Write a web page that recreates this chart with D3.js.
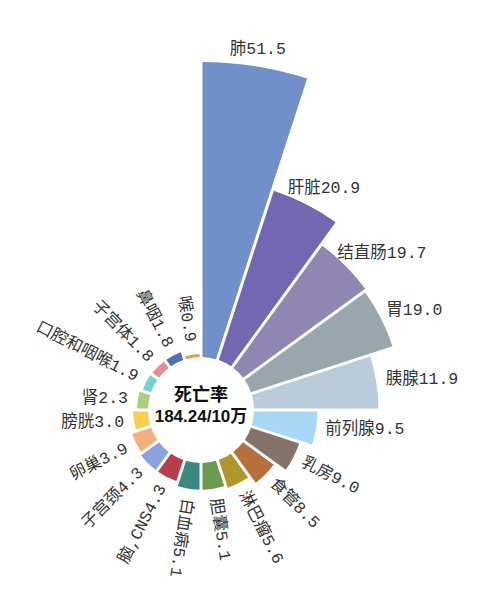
<!DOCTYPE html>
<html>
<head>
<meta charset="utf-8">
<script src="https://cdn.jsdelivr.net/npm/d3@7"></script>
<style>
  body { margin: 0; background: #fff; }
  svg { display: block; }
</style>
</head>
<body>
<svg id="chart" width="504" height="610"></svg>
<script>
// cancer types, clockwise from 12 o'clock
var categories = ['肺', '肝脏', '结直肠', '胃', '胰腺', '前列腺', '乳房', '食管', '淋巴瘤', '胆囊',
    '白血病', '脑,CNS', '子宫颈', '卵巢', '膀胱', '肾', '口腔和咽喉', '子宫体', '鼻咽', '喉'];

// death rate per 100,000
var rates = [51.5, 20.9, 19.7, 19.0, 11.9, 9.5, 9.0, 8.5, 5.6, 5.1,
    5.1, 4.3, 4.3, 3.9, 3.0, 2.3, 1.9, 1.8, 1.8, 0.9];

var centerTitle = '死亡率';
var centerValue = '184.24/10万';

var palette = ['#7190c9', '#7467b1', '#8f87b2', '#98a7ae', '#b8cbda', '#a6d8f4', '#85736b', '#b7703c',
    '#ae962c', '#6b9a4f', '#3b8a80', '#b53e4d', '#8ba3dd', '#f3b07c', '#f7d053', '#a6d27d',
    '#70d6d2', '#e68c94', '#5270b2', '#dca050'];

var svg = d3.select('#chart');
var cx = 201, cy = 410;
var innerR = 53;

var g = svg.append('g').attr('transform', 'translate(' + cx + ',' + cy + ')');

// radius scale (the picture is not strictly proportional, so use a few stops)
var rScale = d3.scaleLinear()
    .domain([0, 5.5, 8.5, 12, 20, 21, 51.5])
    .range([51, 82, 91, 180, 205, 234, 348]);

var angle = d3.scaleBand()
    .domain(categories)
    .range([0, 2 * Math.PI]);

// constant white gap between the bars
var arc = d3.arc()
    .innerRadius(innerR)
    .outerRadius(function(d, i) { return rScale(rates[i]); })
    .startAngle(function(d) { return angle(d); })
    .endAngle(function(d) { return angle(d) + angle.bandwidth(); })
    .padAngle(0.03)
    .padRadius(100);

g.selectAll('path.bar')
    .data(categories)
    .enter()
    .append('path')
    .attr('class', 'bar')
    .attr('d', function(d, i) { return arc(d, i); })
    .attr('fill', function(d, i) { return palette[i]; });

// labels
var fmt = d3.format('.1f');
var labels = g.selectAll('text.lbl')
    .data(categories)
    .enter()
    .append('text')
    .attr('class', 'lbl')
    .attr('font-family', '"Liberation Mono", "Noto Sans CJK SC", sans-serif')
    .attr('font-size', 16.5)
    .attr('fill', '#333')
    .attr('dominant-baseline', 'central')
    .text(function(d, i) { return d + fmt(rates[i]); });

labels.each(function(d, i) {
    var t = d3.select(this);
    var a = angle(d) + angle.bandwidth() / 2;
    var deg = a * 180 / Math.PI;
    var gap = i === categories.length - 1 ? 13 : 10;
    var r = rScale(rates[i]) + gap;
    var px = Math.sin(a) * r, py = -Math.cos(a) * r;
    var w = this.getComputedTextLength();

    if (deg < 100) {
        // upper right: horizontal text
        t.attr('text-anchor', 'start')
            .attr('x', px - w / 2 * (1 - Math.sin(a)) * 1.15)
            .attr('y', py - 7 * Math.max(0, Math.cos(a)));
    } else if (deg < 200) {
        // lower right: reads outward
        t.attr('text-anchor', 'start')
            .attr('transform', 'translate(' + px + ',' + py + ') rotate(' + (deg - 90) + ')');
    } else {
        // left half: reads toward the centre
        var rot = deg - 270;
        if (Math.abs(rot) < 10) rot = 0;
        t.attr('text-anchor', 'end')
            .attr('transform', 'translate(' + px + ',' + py + ') rotate(' + rot + ')');
    }
});

// center text
g.append('text')
    .attr('x', 0)
    .attr('y', -15)
    .attr('text-anchor', 'middle')
    .attr('dominant-baseline', 'central')
    .attr('font-family', '"Liberation Sans", "Noto Sans CJK SC", sans-serif')
    .attr('font-weight', 'bold')
    .attr('font-size', 18)
    .attr('fill', '#111')
    .text(centerTitle);

g.append('text')
    .attr('x', 0)
    .attr('y', 6)
    .attr('text-anchor', 'middle')
    .attr('dominant-baseline', 'central')
    .attr('font-family', '"Liberation Sans", "Noto Sans CJK SC", sans-serif')
    .attr('font-weight', 'bold')
    .attr('font-size', 17)
    .attr('fill', '#111')
    .text(centerValue);
</script>
</body>
</html>
